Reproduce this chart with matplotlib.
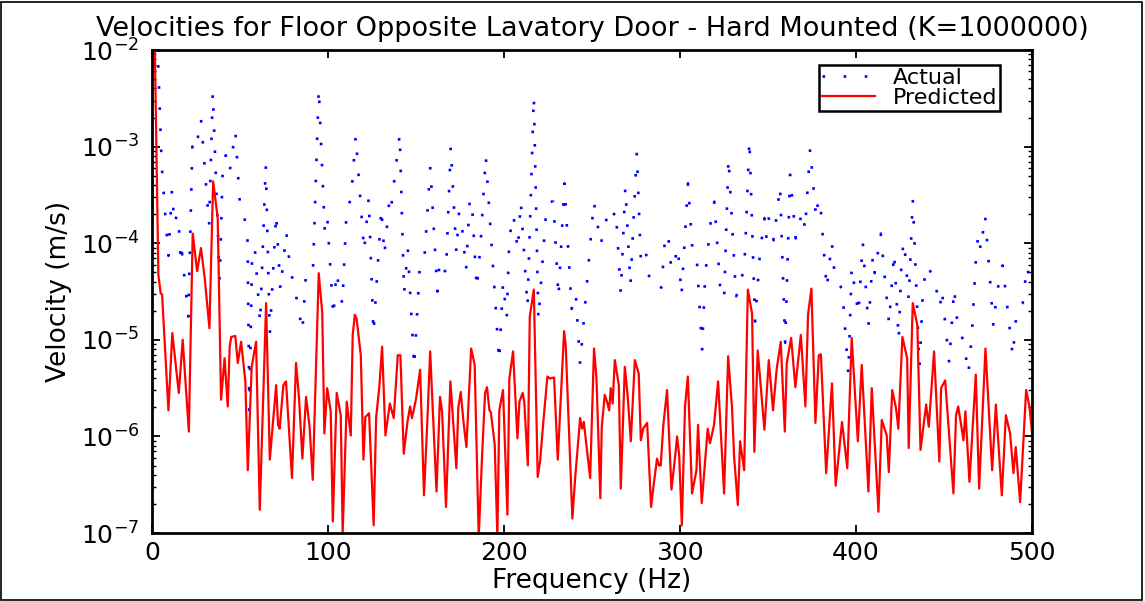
#Velocities for floor opposite lavatory door, actual vs predicted, MATLAB style log plot

import numpy as np
import matplotlib
matplotlib.use('Agg')
import matplotlib.pyplot as plt
from matplotlib.patches import Rectangle

# values: frequency (Hz) and log10 of velocity (m/s)
actual_freq = [0, 3.4, 5.5, 7.5, 9.3, 11.3, 12.7, 14.2, 15.3, 16.3, 17.0, 20.6, 22.9, 24.5, 25.7, 27.8,
               32.4, 34.5, 38.4, 40.1, 41.9, 42.6, 44.1, 47.3, 49.8, 51.5, 54.2, 55.3, 56.9, 58.5, 61.4,
               64.6, 66.9, 70.5, 72.9, 76.3, 78.4, 82.2, 85.4, 87.3, 91.3, 94.7, 98.1, 99.5, 103.0, 104.7,
               108.1, 110.6, 113.0, 115.7, 120.5, 123.1, 125.8, 130.3, 132.0, 134.8, 135.7, 140.7, 143.2,
               145.3, 148.9, 152.1, 154.7, 158.1, 162.1, 163.4, 167.0, 169.7, 172.9, 174.4, 175.6, 178.4,
               180.5, 181.6, 184.5, 186.6, 189.6, 197.2, 199.4, 201.5, 203.0, 205.3, 207.8, 209.5, 213.3,
               216.9, 219.5, 223.7, 225.7, 228.0, 230.9, 234.3, 238.4, 240.7, 243.2, 251.0, 254.9, 257.0,
               259.1, 261.4, 263.5, 266.3, 268.9, 271.8, 275.4, 277.7, 280.3, 283.1, 287.3, 289.4, 291.6,
               293.2, 295.0, 297.0, 298.1, 299.4, 300.8, 304.5, 307.2, 309.5, 312.5, 314.2, 317.6, 319.5,
               322.7, 325.0, 327.5, 331.8, 334.5, 336.9, 339.4, 342.6, 345.4, 347.9, 348.9, 350.2, 353.2,
               356.8, 359.7, 362.5, 365.7, 368.2, 369.7, 371.0, 373.9, 377.3, 378.5, 379.5, 383.3, 386.2,
               387.9, 392.2, 395.6, 397.5, 401.3, 403.8, 407.0, 409.5, 410.6, 414.0, 418.7, 421.6, 424.2,
               425.9, 427.3, 429.9, 432.2, 436.0, 438.0, 440.1, 444.1, 447.7, 448.7, 452.9, 454.9, 455.7,
               457.4, 459.4, 461.9, 463.8, 465.7, 467.9, 469.4, 470.8, 473.3, 476.1, 478.0, 479.9, 483.3,
               489.0, 491.3, 494.7, 497.0, 500.0]
actual_log = [-1.95, -2.1, -3.2, -3.7, -4.13, -3.45, -3.8, -3.7, -3.85, -4.2, -4.1, -4.76, -3.0, -3.05, -2.94, -2.71,
              -3.81, -2.44, -4.38, -3.27, -3.09, -3.23, -3.26, -2.84, -3.56, -3.64, -3.91, -5.73, -4.05, -4.08, -4.83,
              -3.19, -4.94, -3.7, -4.48, -3.89, -4.25, -4.58, -4.91, -4.36, -4.35, -2.40, -3.86, -3.72, -4.76, -4.30,
              -4.63, -3.63, -3.55, -2.89, -4.08, -3.53, -4.93, -3.64, -4.12, -3.56, -3.65, -2.87, -4.52,
              -4.06, -5.28, -4.24, -4.17, -3.21, -4.5, -4.18, -4.31, -3.0, -4.1, -3.68, -3.73, -4.28,
              -3.55, -3.55, -4.47, -4.02, -3.1, -5.22, -4.41, -4.77, -3.94, -3.71, -4.07, -3.57, -4.66,
              -2.48, -4.79, -3.72, -3.57, -3.57, -4.56, -3.38, -4.68, -4.52, -5.25, -3.57, -4.01, -3.85,
              -3.67, -3.74, -3.66, -4.52, -3.42, -4.43, -3.06, -4.17, -4.06, -4.44, -4.44, -4.46, -3.91,
              -3.91, -4.27, -4.22, -4.04, -4.18, -4.54, -3.38, -4.12, -4.17, -5.10, -4.35, -3.74, -3.57,
              -4.44, -4.58, -3.12, -4.55, -4.45, -4.1, -2.93, -4.81, -4.1, -3.74, -3.95, -3.73, -3.97,
              -3.41, -5.03, -3.29, -3.95, -3.76, -3.67, -3.86, -3.02, -3.74, -3.55, -3.55, -4.47, -3.99,
              -4.35, -4.48, -5.36, -4.25, -4.73, -3.99, -4.86, -4.13, -4.31, -3.90, -4.83, -4.10, -5.00,
              -4.13, -3.98, -4.58, -3.54, -5.28, -4.48, -4.23, -4.35, -4.66, -4.48, -5.24, -4.69, -4.47,
              -4.80, -4.90, -5.12, -5.35, -4.97, -4.21, -3.90, -4.07, -3.71, -4.38, -4.86, -4.52, -4.23,
              -5.17, -4.69, -4.62, -4.24, -4.48]

predicted_freq = [0, 1.5, 3.6, 4.9, 5.7, 9.3, 11.5, 15.2, 17.4, 20.9, 23.1, 25.6, 27.8, 29.9, 32.6, 34.7,
                  37.3, 39.2, 41.2, 43.0, 44.1, 45.0, 47.3, 48.7, 50.6, 53.0, 54.4, 56.6, 59.1, 61.2, 64.8,
                  66.9, 70.5, 71.6, 72.5, 74.6, 76.1, 79.5, 81.8, 83.5, 85.4, 87.5, 89.5, 91.3, 94.7, 96.7,
                  97.9, 99.5, 101.5, 102.7, 104.9, 107.2, 108.3, 110.6, 112.9, 114.0, 115.2, 116.2, 118.6,
                  120.1, 121.2, 123.3, 125.9, 127.3, 129.2, 130.7, 132.6, 135.1, 137.3, 139.6, 141.1, 143.0,
                  145.1, 146.6, 147.7, 150.0, 152.3, 154.5, 156.5, 158.0, 161.6, 163.6, 164.8, 167.0, 169.5,
                  172.9, 174.0, 175.4, 177.0, 178.6, 181.3, 183.3, 185.6, 187.5, 189.2, 190.3, 191.7, 192.5,
                  194.7, 196.2, 197.3, 199.4, 201.9, 203.0, 205.1, 207.6, 208.7, 210.6, 211.5, 213.5, 214.6,
                  216.9, 219.1, 220.5, 222.3, 224.6, 226.0, 228.4, 230.5, 234.1, 235.0, 238.8, 240.4, 243.2,
                  244.3, 245.3, 248.9, 251.1, 252.5, 254.7, 255.5, 257.2, 258.5, 259.7, 260.6, 261.7, 262.9,
                  265.2, 266.3, 268.6, 270.3, 272.0, 274.3, 276.5, 277.7, 279.0, 281.3, 283.5, 285.0, 286.9,
                  288.0, 289.0, 290.5, 292.6, 295.1, 297.3, 298.3, 299.5, 301.0, 302.8, 304.4, 306.8, 309.3,
                  310.2, 312.3, 315.7, 317.0, 319.3, 321.6, 325.0, 327.3, 329.5, 330.7, 332.8, 334.1, 336.4,
                  338.5, 340.9, 342.2, 344.1, 347.9, 350.4, 352.8, 354.9, 357.2, 359.5, 360.6, 363.1, 365.5,
                  368.6, 371.2, 372.7, 374.6, 376.9, 378.8, 380.0, 383.0, 386.3, 388.4, 392.0, 395.0, 397.5,
                  401.0, 403.2, 407.0, 408.9, 412.7, 414.6, 417.4, 418.6, 420.5, 422.7, 424.0, 426.3, 429.0,
                  429.9, 432.2, 434.8, 436.6, 439.8, 441.3, 444.3, 447.3, 448.3, 450.6, 455.3, 456.8, 458.0,
                  459.5, 461.0, 462.1, 464.4, 468.0, 469.9, 473.5, 477.3, 479.4, 482.8, 485.1, 487.5, 489.4,
                  490.7, 493.2, 496.6, 498.5, 500.0]
predicted_log = [-1.6, -1.9, -4.33, -4.52, -4.53, -5.73, -4.93, -5.55, -5.0, -5.95, -3.9, -4.29, -4.05, -4.36, -4.88, -3.36,
                 -3.74, -5.62, -5.19, -5.69, -5.07, -4.97, -4.96, -5.24, -5.02, -5.43, -6.35, -5.28, -5.02, -6.76, -4.62,
                 -6.24, -5.47, -5.88, -5.92, -5.47, -5.43, -6.43, -5.24, -5.6, -6.23, -5.59, -5.9, -6.45, -4.31, -4.72,
                 -5.97, -5.5, -5.74, -6.88, -5.55, -5.78, -7.0, -5.64, -5.99, -4.95, -4.74, -4.78, -5.16,
                 -6.24, -5.8, -5.76, -6.92, -5.81, -5.47, -5.07, -5.99, -5.66, -5.81, -5.16, -5.16, -6.18,
                 -5.85, -5.69, -5.81, -5.61, -5.31, -6.61, -5.8, -5.12, -6.57, -5.59, -5.75, -6.73, -5.43,
                 -6.33, -5.7, -5.54, -5.86, -6.11, -5.09, -5.26, -7.05, -6.2, -5.55, -5.49, -5.73, -5.75,
                 -6.09, -7.05, -5.73, -5.52, -6.81, -5.4, -5.12, -6.02, -5.64, -5.55, -5.65, -6.3, -4.76,
                 -4.48, -6.42, -6.25, -5.85, -5.38, -5.4, -5.39, -6.24, -4.91, -5.05, -6.85, -6.43, -5.81,
                 -5.92, -5.85, -6.43, -5.09, -5.4, -6.64, -5.9, -5.57, -5.64, -5.73, -5.5, -5.66, -5.21,
                 -5.47, -6.54, -5.28, -5.6, -6.05, -5.21, -5.35, -6.04, -5.92, -5.86, -6.73, -6.5, -6.23,
                 -6.3, -6.3, -5.88, -5.52, -6.55, -6.19, -6.0, -6.2, -6.92, -5.69, -5.38, -6.59, -6.35,
                 -5.88, -6.69, -5.92, -6.07, -5.88, -5.43, -6.59, -5.17, -5.7, -6.21, -6.71, -6.05, -6.35,
                 -4.48, -4.73, -6.16, -5.11, -5.93, -5.21, -5.73, -5.3, -5.02, -5.95, -5.24, -4.98, -5.49,
                 -4.95, -5.69, -4.74, -4.47, -5.86, -5.16, -5.15, -6.38, -5.45, -6.51, -5.85, -6.33, -4.98,
                 -6.05, -5.26, -6.57, -5.5, -6.78, -5.83, -5.99, -6.37, -5.52, -5.71, -5.92, -4.97, -5.19,
                 -6.12, -4.62, -4.85, -6.14, -5.67, -5.9, -5.12, -6.26, -5.5, -5.42, -6.59, -5.78, -5.69,
                 -5.86, -6.04, -5.74, -6.47, -5.36, -6.54, -5.09, -6.35, -5.67, -6.61, -5.78, -5.97, -6.38,
                 -6.11, -6.68, -5.52, -5.69, -5.97]

x_ticks = [0, 100, 200, 300, 400, 500]

plt.rcParams['font.family'] = ['DejaVu Sans']
plt.rcParams['mathtext.default'] = 'regular'

fig = plt.figure(figsize=(11.45, 6.01), dpi=100)
ax = fig.add_axes([0.1328, 0.1131, 0.7686, 0.8037])

ax.plot(actual_freq, 10.0 ** np.array(actual_log), color='#0000ff', lw=1.9,
        linestyle=(0, (1, 7)), label='Actual')
ax.plot(predicted_freq, 10.0 ** np.array(predicted_log), color='#ff0000', lw=1.6,
        label='Predicted')

ax.set_yscale('log')
ax.set_xlim(0, 500)
ax.set_ylim(1e-7, 1e-2)
ax.set_xticks(x_ticks)
ax.tick_params(which='both', direction='in', top=True, right=True, labelsize=18)
ax.tick_params(which='major', length=6, width=1.3)
ax.tick_params(which='minor', length=3, width=1.0)
ax.tick_params(axis='y', pad=9)
ax.tick_params(axis='x', pad=6)
ax.xaxis.set_minor_locator(plt.NullLocator())
for s in ax.spines.values():
    s.set_linewidth(2)

ax.set_title('Velocities for Floor Opposite Lavatory Door - Hard Mounted (K=1000000)',
             fontsize=19.5, pad=10)
ax.set_xlabel('Frequency (Hz)', fontsize=19, labelpad=2)
ax.set_ylabel('Velocity (m/s)', fontsize=19, labelpad=6)

# MATLAB draws the two entries nearly on top of each other; keep them tight
leg = ax.legend(loc='upper right', bbox_to_anchor=(0.9636, 0.969), fontsize=16,
                fancybox=False, framealpha=1, edgecolor='black', handlelength=2.4,
                labelspacing=0.02, borderpad=0.12, handletextpad=0.8, borderaxespad=0)
leg.get_frame().set_linewidth(1.8)

fig.patches.append(Rectangle((0.001, 0.002), 0.996, 0.995, transform=fig.transFigure,
                             fill=False, lw=1.2, ec='black'))

plt.savefig('out.png', dpi=100)
